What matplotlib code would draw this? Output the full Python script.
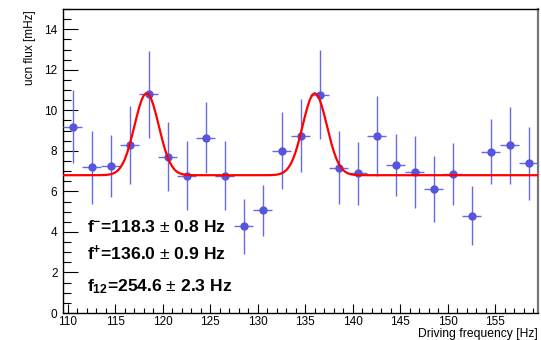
import numpy as np
import matplotlib
matplotlib.use("Agg")
import matplotlib.pyplot as plt
from matplotlib.ticker import MultipleLocator

plt.rcParams['font.family'] = ['Liberation Sans', 'DejaVu Sans']
plt.rcParams['mathtext.fontset'] = 'custom'
plt.rcParams['mathtext.rm'] = 'Liberation Sans'
plt.rcParams['mathtext.bf'] = 'Liberation Sans:bold'

# measured ucn flux per driving frequency bin
freq = [110.5, 112.5, 114.5, 116.5, 118.5, 120.5, 122.5, 124.5, 126.5, 128.5,
        130.5, 132.5, 134.5, 136.5, 138.5, 140.5, 142.5, 144.5, 146.5, 148.5,
        150.5, 152.5, 154.5, 156.5, 158.5]
flux = [9.2, 7.2, 7.25, 8.3, 10.8, 7.72, 6.78, 8.65, 6.78, 4.27,
        5.07, 8.0, 8.75, 10.78, 7.17, 6.9, 8.72, 7.28, 6.96, 6.11,
        6.85, 4.81, 7.95, 8.29, 7.38]
flux_err = [1.8, 1.8, 1.55, 1.93, 2.15, 1.7, 1.7, 1.75, 1.7, 1.36,
            1.25, 1.9, 1.8, 2.2, 1.8, 1.55, 1.97, 1.53, 1.76, 1.64,
            1.52, 1.45, 1.6, 1.9, 1.8]
bin_half = 1.0

# fit result: constant background plus two resonances
f_minus, f_minus_err = 118.3, 0.8
f_plus, f_plus_err = 136.0, 0.9
f_12, f_12_err = 254.6, 2.3
base = 6.8
amp = 4.05
sigma = 1.27


def fit_func(x):
    return (base + amp * np.exp(-(x - f_minus) ** 2 / (2 * sigma ** 2))
            + amp * np.exp(-(x - f_plus) ** 2 / (2 * sigma ** 2)))


fig = plt.figure(figsize=(5.41, 3.40), dpi=100)
ax = fig.add_axes([0.1165, 0.0794, 0.878, 0.894])

ax.errorbar(freq, flux, xerr=bin_half, yerr=flux_err, fmt='o', color='#5555dd',
            ecolor='#6a6ae0', elinewidth=1.0, ms=5, capsize=0, zorder=3)

xs = np.linspace(109.5, 159.5, 201)
ax.plot(xs, fit_func(xs), color='#ff0000', lw=1.6, zorder=4)

ax.set_xlim(109.5, 159.5)
ax.set_ylim(0, 15)
ax.xaxis.set_major_locator(MultipleLocator(5))
ax.xaxis.set_minor_locator(MultipleLocator(1))
ax.yaxis.set_major_locator(MultipleLocator(2))
ax.yaxis.set_minor_locator(MultipleLocator(0.5))
ax.tick_params(axis='y', which='major', direction='in', length=10.5, width=0.8,
               labelsize=8.5, pad=4)
ax.tick_params(axis='y', which='minor', direction='in', length=5.5, width=0.8)
ax.tick_params(axis='x', which='major', direction='in', length=6.5, width=0.8,
               labelsize=8.5, pad=2)
ax.tick_params(axis='x', which='minor', direction='in', length=3.3, width=0.8)
for sp in ax.spines.values():
    sp.set_linewidth(1.0)
ax.spines['right'].set_color('#777777')
ax.spines['right'].set_linewidth(1.6)

# axis titles sit at the far ends of the axes
fig.text(538 / 541, 1 - 337 / 340, 'Driving frequency [Hz]', fontsize=8.7,
         ha='right', va='baseline')
fig.text(29.5 / 541, 1 - 10 / 340, 'ucn flux [mHz]', fontsize=8.5,
         rotation=90, ha='center', va='top')

labels = [
    (r'$\mathbf{f^{-}}$=%.1f $\pm$ %.1f Hz' % (f_minus, f_minus_err), 4.0),
    (r'$\mathbf{f^{+}}$=%.1f $\pm$ %.1f Hz' % (f_plus, f_plus_err), 2.6),
    (r'$\mathbf{f_{12}}$=%.1f $\pm$ %.1f Hz' % (f_12, f_12_err), 1.05),
]
for txt, yy in labels:
    ax.text(112.0, yy, txt, fontsize=12.6, fontweight='bold', ha='left',
            va='baseline', zorder=5)

fig.savefig('out.png', dpi=100)
